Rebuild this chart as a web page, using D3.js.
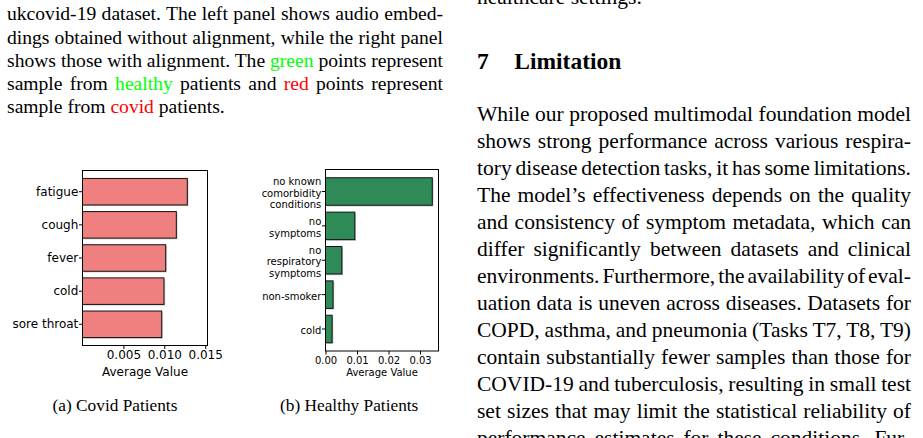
<!DOCTYPE html>
<html>
<head>
<meta charset="utf-8">
<script src="https://cdn.jsdelivr.net/npm/d3@7"></script>
<style>
  body { margin: 0; width: 923px; height: 438px; overflow: hidden; background: #fff; position: relative; }
  .ln { position: absolute; font-family: "Liberation Serif", "Times New Roman", serif; white-space: nowrap; color: #000; }
  .g { color: #00ff00; }
  .r { color: #ff0000; }
  svg { position: absolute; left: 0; top: 0; }
</style>
</head>
<body>
<svg id="chart"></svg>
<script>
// ---- chart data ----
const covidSymptoms = ["fatigue", "cough", "fever", "cold", "sore throat"];
const covidValues   = [0.01281, 0.01147, 0.01017, 0.00996, 0.00968];
const covidTicks    = [0.005, 0.010, 0.015];

const healthySymptoms = [["no known", "comorbidity", "conditions"], ["no", "symptoms"],
                         ["no", "respiratory", "symptoms"], ["non-smoker"], ["cold"]];
const healthyValues   = [0.0339, 0.0093, 0.0052, 0.0024, 0.0021];
const healthyTicks    = [0.00, 0.01, 0.02, 0.03];

const subCaptions = ["(a) Covid Patients", "(b) Healthy Patients"];

// ---- page text ----
const captionLines = [
  "ukcovid-19 dataset. The left panel shows audio embed-",
  "dings obtained without alignment, while the right panel",
  "shows those with alignment. The <span class='g'>green</span> points represent",
  "sample from <span class='g'>healthy</span> patients and <span class='r'>red</span> points represent",
  "sample from <span class='r'>covid</span> patients."
];
const bodyLines = [
  "While our proposed multimodal foundation model",
  "shows strong performance across various respira-",
  "tory disease detection tasks, it has some limitations.",
  "The model’s effectiveness depends on the quality",
  "and consistency of symptom metadata, which can",
  "differ significantly between datasets and clinical",
  "environments. Furthermore, the availability of eval-",
  "uation data is uneven across diseases. Datasets for",
  "COPD, asthma, and pneumonia (Tasks T7, T8, T9)",
  "contain substantially fewer samples than those for",
  "COVID-19 and tuberculosis, resulting in small test",
  "set sizes that may limit the statistical reliability of",
  "performance estimates for these conditions. Fur-"
];

// place one line of text at a baseline, optionally justified to a width
function addLine(html, x, baseline, width, fs, justify) {
  const d = d3.select("body").append("div").attr("class", "ln")
    .style("left", x + "px")
    .style("top", (baseline - 0.8375 * fs) + "px")
    .style("font-size", fs + "px")
    .style("line-height", fs + "px");
  const span = d.append("span").html(html);
  if (justify) {
    const natural = span.node().getBoundingClientRect().width;
    const spaces = (span.node().textContent.match(/ /g) || []).length;
    if (spaces) span.style("word-spacing", ((width - natural) / spaces) + "px");
  }
}

captionLines.forEach((t, i) =>
  addLine(t, 7, 20.7 + i * 23.3, 436, 19.6, i < captionLines.length - 1));

addLine("healthcare settings.", 477, 5, 434, 21.5, false);
bodyLines.forEach((t, i) =>
  addLine(t, 477, 122 + i * 27, 434, 21.5, true));

const svg = d3.select("#chart").attr("width", 923).attr("height", 438);

svg.append("text").attr("x", 477).attr("y", 69)
  .attr("font-family", "Liberation Serif").attr("font-weight", "bold").attr("font-size", 23.5)
  .text("7");
svg.append("text").attr("x", 514.3).attr("y", 69)
  .attr("font-family", "Liberation Serif").attr("font-weight", "bold").attr("font-size", 23.5)
  .text("Limitation");

function drawPanel(cfg) {
  const g = svg.append("g");
  const x = d3.scaleLinear().domain([0, cfg.xMax]).range([cfg.left, cfg.right]);
  const y = d3.scaleBand().domain(cfg.labels.map((d, i) => i))
    .range([cfg.top, cfg.bottom]).paddingInner(0.2).paddingOuter(0.24);

  // soft shadow behind bars
  g.selectAll("rect.shadow").data(cfg.values).join("rect")
    .attr("class", "shadow")
    .attr("x", x(0) + 1.2)
    .attr("y", (d, i) => y(i) + 1.2)
    .attr("width", d => x(d) - x(0))
    .attr("height", y.bandwidth())
    .attr("fill", "#000").attr("opacity", 0.22);

  g.selectAll("rect.bar").data(cfg.values).join("rect")
    .attr("class", "bar")
    .attr("x", x(0))
    .attr("y", (d, i) => y(i))
    .attr("width", d => x(d) - x(0))
    .attr("height", y.bandwidth())
    .attr("fill", cfg.color)
    .attr("stroke", "#111").attr("stroke-width", 1);

  g.append("rect")
    .attr("x", cfg.left).attr("y", cfg.top)
    .attr("width", cfg.right - cfg.left).attr("height", cfg.bottom - cfg.top)
    .attr("fill", "none").attr("stroke", "#000").attr("stroke-width", 1);

  const gx = g.append("g").attr("transform", `translate(0,${cfg.bottom})`)
    .call(d3.axisBottom(x).tickValues(cfg.ticks).tickFormat(d3.format(cfg.fmt))
      .tickSize(3.5).tickPadding(cfg.xPad).tickSizeOuter(0));
  gx.select(".domain").remove();
  gx.attr("font-size", cfg.fs).attr("font-family", "DejaVu Sans");
  gx.selectAll("text").attr("fill", "#000");

  const gy = g.append("g").attr("transform", `translate(${cfg.left},0)`)
    .call(d3.axisLeft(y).tickFormat("").tickSize(3.5).tickSizeOuter(0));
  gy.select(".domain").remove();
  gy.attr("font-size", cfg.fs).attr("font-family", "DejaVu Sans");
  gy.selectAll(".tick").each(function (d) {
    const lines = [].concat(cfg.labels[d]);
    const t = d3.select(this).select("text")
      .attr("x", -(3.5 + cfg.yPad)).attr("fill", "#000").attr("text-anchor", "end");
    lines.forEach((l, k) => {
      t.append("tspan").attr("x", -(3.5 + cfg.yPad))
        .attr("y", cfg.lineGap * (k - (lines.length - 1) / 2) + cfg.yShift)
        .attr("dy", "0.35em").text(l);
    });
    t.attr("dy", null);
  });

  g.append("text")
    .attr("x", (cfg.left + cfg.right) / 2).attr("y", cfg.xLabelY)
    .attr("text-anchor", "middle").attr("font-family", "DejaVu Sans").attr("font-size", cfg.fs)
    .text("Average Value");

  g.append("text")
    .attr("x", cfg.capX).attr("y", 411)
    .attr("text-anchor", "middle").attr("font-family", "Liberation Serif").attr("font-size", 17.3)
    .text(cfg.caption);
}

drawPanel({
  labels: covidSymptoms, values: covidValues, ticks: covidTicks, fmt: ".3f",
  left: 82.5, right: 207.5, top: 170.5, bottom: 345.5, xMax: 0.01528,
  color: "#f08080", fs: 12, xPad: 1.5, yPad: 0.7, lineGap: 12, yShift: 0,
  xLabelY: 375.5, capX: 115, caption: subCaptions[0]
});

drawPanel({
  labels: healthySymptoms, values: healthyValues, ticks: healthyTicks, fmt: ".2f",
  left: 325.5, right: 438.5, top: 169.5, bottom: 351, xMax: 0.03587,
  color: "#2e8b57", fs: 10, xPad: 2, yPad: 0.7, lineGap: 11.5, yShift: 1.5,
  xLabelY: 376, capX: 349.2, caption: subCaptions[1]
});
</script>
</body>
</html>
